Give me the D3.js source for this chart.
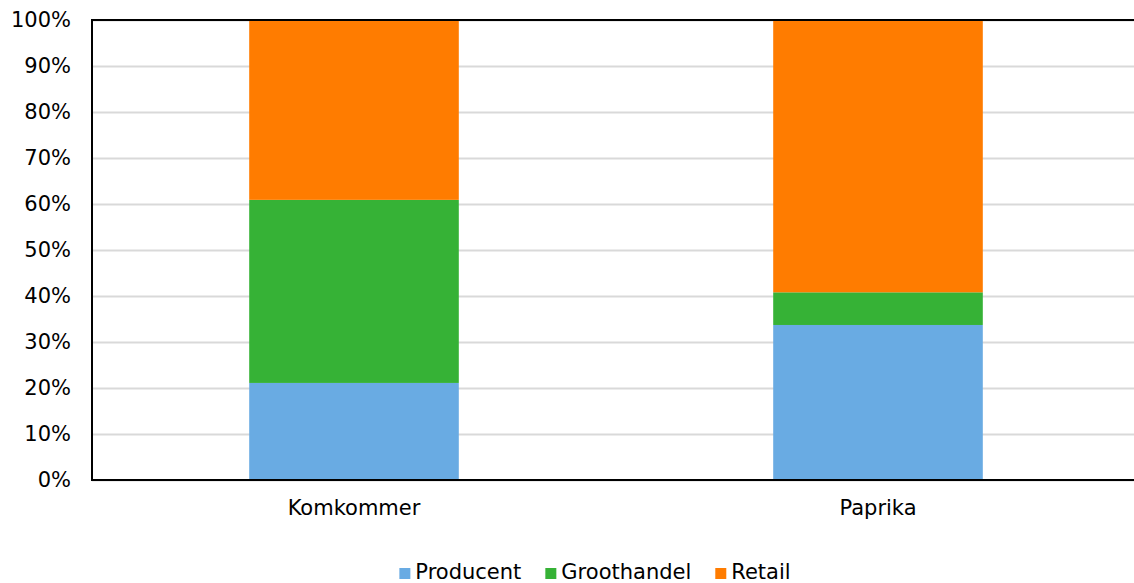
<!DOCTYPE html>
<html>
<head>
<meta charset="utf-8">
<script src="https://cdn.jsdelivr.net/npm/d3@7"></script>
<style>
	html, body { margin: 0; padding: 0; background: #fff; }
	svg { display: block; }
</style>
</head>
<body>
<div id="chart"></div>
<script>
// chart data
const CATEGORIES = ['Komkommer', 'Paprika'];
const SERIES = ['Producent', 'Groothandel', 'Retail'];
const PRODUCENT = [21.1, 33.7];
const GROOTHANDEL = [39.8, 7.1];
const RETAIL = [39.1, 59.2];
const Y_TICKS = [0, 10, 20, 30, 40, 50, 60, 70, 80, 90, 100];

const WIDTH = 1134;
const HEIGHT = 583;
const LEFT = 92;
const RIGHT = 1140;
const TOP = 20;
const BOTTOM = 480;
const FONT = '"DejaVu Sans", Verdana, sans-serif';
const FONT_SIZE = '21px';
const COLORS = ['#69abe3', '#36b236', '#ff7c00'];

// one row per category for d3.stack
const rows = CATEGORIES.map((name, i) => ({
	name,
	Producent: PRODUCENT[i],
	Groothandel: GROOTHANDEL[i],
	Retail: RETAIL[i]
}));

const svg = d3.select('#chart')
	.append('svg')
	.attr('width', WIDTH)
	.attr('height', HEIGHT);

const xScale = d3.scaleBand()
	.domain(CATEGORIES)
	.range([LEFT, RIGHT])
	.paddingInner(0.6)
	.paddingOuter(0.3);
const yScale = d3.scaleLinear()
	.domain([0, 100])
	.range([BOTTOM, TOP]);
const color = d3.scaleOrdinal().domain(SERIES).range(COLORS);

// gridlines
const grid = svg.append('g')
	.attr('transform', `translate(${LEFT}, 0)`)
	.call(d3.axisLeft(yScale).tickValues(Y_TICKS).tickSize(-(RIGHT - LEFT)).tickFormat(''));
grid.select('.domain').remove();
grid.selectAll('line')
	.attr('stroke', '#d9d9d9')
	.attr('stroke-width', 2);

// stacked bars
const stacked = d3.stack().keys(SERIES)(rows);
svg.append('g')
	.selectAll('g')
	.data(stacked)
	.enter()
	.append('g')
	.attr('fill', (d) => color(d.key))
	.selectAll('rect')
	.data((d) => d)
	.enter()
	.append('rect')
	.attr('x', (d) => xScale(d.data.name))
	.attr('width', xScale.bandwidth())
	.attr('y', (d) => yScale(d[1]))
	.attr('height', (d) => yScale(d[0]) - yScale(d[1]));

// axis lines
svg.append('line')
	.attr('x1', LEFT).attr('x2', LEFT)
	.attr('y1', TOP).attr('y2', BOTTOM)
	.attr('stroke', '#000').attr('stroke-width', 2);
svg.append('line')
	.attr('x1', LEFT - 1).attr('x2', RIGHT)
	.attr('y1', BOTTOM).attr('y2', BOTTOM)
	.attr('stroke', '#000').attr('stroke-width', 2);
svg.append('line')
	.attr('x1', LEFT - 1).attr('x2', RIGHT)
	.attr('y1', TOP).attr('y2', TOP)
	.attr('stroke', '#000').attr('stroke-width', 2);

// y labels
const yAxis = svg.append('g')
	.attr('transform', `translate(${LEFT - 21}, 0)`)
	.call(d3.axisLeft(yScale).tickValues(Y_TICKS).tickSize(0).tickPadding(0).tickFormat((d) => d + '%'));
yAxis.select('.domain').remove();
yAxis.selectAll('text')
	.style('font-family', FONT)
	.style('font-size', FONT_SIZE)
	.attr('fill', '#000');

// x labels
const xAxis = svg.append('g')
	.attr('transform', `translate(0, ${BOTTOM})`)
	.call(d3.axisBottom(xScale).tickSize(0).tickPadding(20));
xAxis.select('.domain').remove();
xAxis.selectAll('text')
	.style('font-family', FONT)
	.style('font-size', FONT_SIZE)
	.attr('fill', '#000');

// legend
const legend = svg.append('g');
const items = legend.selectAll('g')
	.data(SERIES)
	.enter()
	.append('g');
items.append('rect')
	.attr('width', 11)
	.attr('height', 11)
	.attr('y', -11)
	.attr('fill', (d) => color(d));
items.append('text')
	.attr('x', 16)
	.attr('y', 0)
	.style('font-family', FONT)
	.style('font-size', FONT_SIZE)
	.attr('fill', '#000')
	.text((d) => d);

let offset = 0;
items.each(function () {
	const g = d3.select(this);
	g.attr('transform', `translate(${offset}, 0)`);
	offset += 16 + g.select('text').node().getComputedTextLength() + 24;
});
const total = offset - 24;
legend.attr('transform', `translate(${595 - total / 2}, 579)`);
</script>
</body>
</html>
